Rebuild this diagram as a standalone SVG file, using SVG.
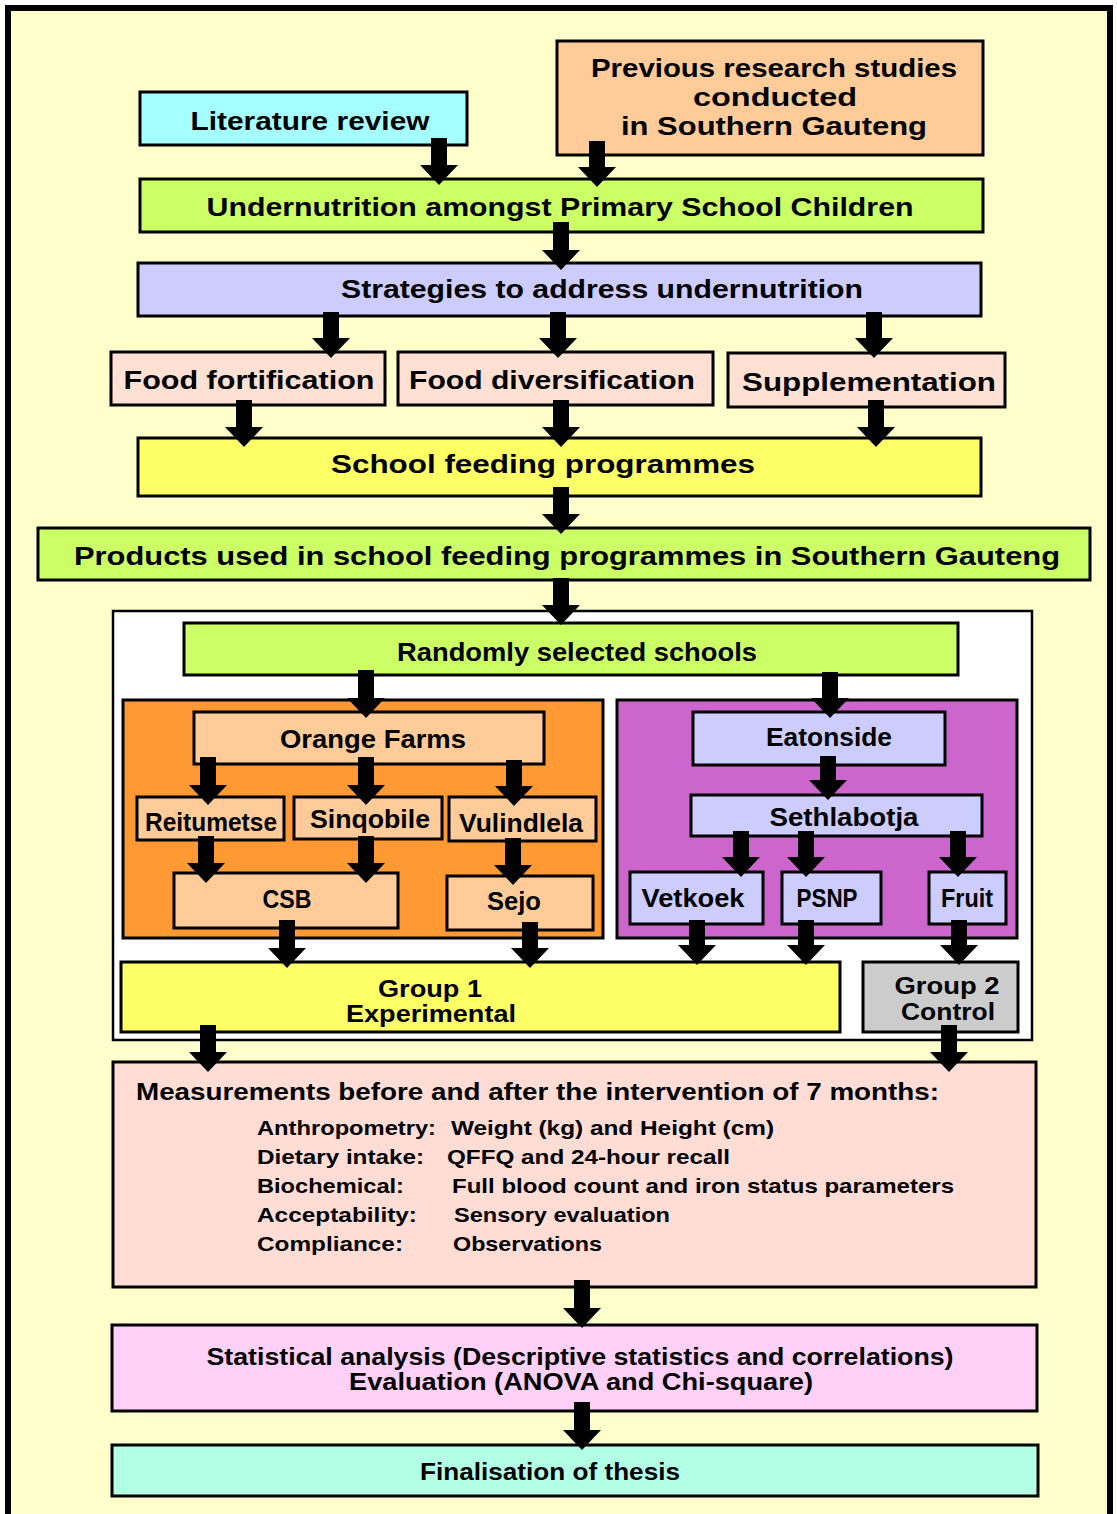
<svg xmlns="http://www.w3.org/2000/svg" width="1117" height="1514" viewBox="0 0 1117 1514">
<style>
.b{stroke:#000;stroke-width:3}
.t{font-family:"Liberation Sans",Arial,sans-serif;font-weight:bold;font-size:26px;fill:#000;text-anchor:middle}
.g{font-size:23px}
.s{font-family:"Liberation Sans",Arial,sans-serif;font-weight:bold;font-size:21px;fill:#000}
.m{font-family:"Liberation Sans",Arial,sans-serif;font-weight:bold;font-size:23px;fill:#000}
.a{fill:#000}
</style>
<rect x="0" y="0" width="1117" height="1514" fill="#fff"/>
<rect x="8" y="8" width="1102" height="1520" fill="#FFFFCC" stroke="#000" stroke-width="6"/>
<g id="literature"><rect class="b" x="140" y="92" width="327" height="53" fill="#A6FFFF"/><text class="t" x="310" y="130" textLength="239" lengthAdjust="spacingAndGlyphs">Literature review</text></g>
<g id="previous"><rect class="b" x="557" y="41" width="426" height="114" fill="#FFCC99"/><text class="t" x="774" y="77" textLength="366" lengthAdjust="spacingAndGlyphs">Previous research studies</text><text class="t" x="775" y="106" textLength="164" lengthAdjust="spacingAndGlyphs">conducted</text><text class="t" x="774" y="135" textLength="306" lengthAdjust="spacingAndGlyphs">in Southern Gauteng</text></g>
<g id="undernutrition"><rect class="b" x="140" y="179" width="843" height="53" fill="#CCFF66"/><text class="t" x="560" y="216" textLength="707" lengthAdjust="spacingAndGlyphs">Undernutrition amongst Primary School Children</text></g>
<g id="strategies"><rect class="b" x="138" y="263" width="843" height="53" fill="#CCCCFF"/><text class="t" x="602" y="298" textLength="522" lengthAdjust="spacingAndGlyphs">Strategies to address undernutrition</text></g>
<g id="fortification"><rect class="b" x="111" y="352" width="274" height="53" fill="#FFE0D2"/><text class="t" x="249" y="389" textLength="251" lengthAdjust="spacingAndGlyphs">Food fortification</text></g>
<g id="diversification"><rect class="b" x="398" y="352" width="315" height="53" fill="#FFE0D2"/><text class="t" x="552" y="389" textLength="286" lengthAdjust="spacingAndGlyphs">Food diversification</text></g>
<g id="supplementation"><rect class="b" x="728" y="353" width="277" height="54" fill="#FFE0D2"/><text class="t" x="869" y="391" textLength="254" lengthAdjust="spacingAndGlyphs">Supplementation</text></g>
<g id="school-feeding"><rect class="b" x="138" y="438" width="843" height="58" fill="#FFFF66"/><text class="t" x="543" y="473" textLength="424" lengthAdjust="spacingAndGlyphs">School feeding programmes</text></g>
<g id="products"><rect class="b" x="38" y="528" width="1052" height="52" fill="#CCFF66"/><text class="t" x="567" y="565" textLength="986" lengthAdjust="spacingAndGlyphs">Products used in school feeding programmes in Southern Gauteng</text></g>
<g id="schools-frame"><rect x="113" y="611" width="919" height="429" fill="#fff" stroke="#000" stroke-width="2.5"/></g>
<g id="randomly"><rect class="b" x="184" y="623" width="774" height="52" fill="#CCFF66"/><text class="t" x="577" y="661" textLength="360" lengthAdjust="spacingAndGlyphs">Randomly selected schools</text></g>
<g id="orange-area"><rect class="b" x="123" y="700" width="480" height="238" fill="#FF9933"/></g>
<g id="purple-area"><rect class="b" x="617" y="700" width="400" height="238" fill="#CC66CC"/></g>
<g id="orange-farms"><rect class="b" x="194" y="712" width="350" height="52" fill="#FFCC99"/><text class="t" x="373" y="748" textLength="186" lengthAdjust="spacingAndGlyphs">Orange Farms</text></g>
<g id="reitumetse"><rect class="b" x="137" y="797" width="147" height="43" fill="#FFCC99"/><text class="t" x="211" y="831" textLength="132" lengthAdjust="spacingAndGlyphs">Reitumetse</text></g>
<g id="sinqobile"><rect class="b" x="294" y="797" width="148" height="42" fill="#FFCC99"/><text class="t" x="370" y="828" textLength="120" lengthAdjust="spacingAndGlyphs">Sinqobile</text></g>
<g id="vulindlela"><rect class="b" x="449" y="797" width="147" height="44" fill="#FFCC99"/><text class="t" x="521" y="832" textLength="124" lengthAdjust="spacingAndGlyphs">Vulindlela</text></g>
<g id="csb"><rect class="b" x="174" y="873" width="224" height="55" fill="#FFCC99"/><text class="t" x="287" y="908" textLength="49" lengthAdjust="spacingAndGlyphs">CSB</text></g>
<g id="sejo"><rect class="b" x="447" y="876" width="146" height="54" fill="#FFCC99"/><text class="t" x="514" y="910" textLength="54" lengthAdjust="spacingAndGlyphs">Sejo</text></g>
<g id="eatonside"><rect class="b" x="693" y="712" width="252" height="53" fill="#CCCCFF"/><text class="t" x="829" y="746" textLength="126" lengthAdjust="spacingAndGlyphs">Eatonside</text></g>
<g id="sethlabotja"><rect class="b" x="691" y="795" width="291" height="41" fill="#CCCCFF"/><text class="t" x="844" y="826" textLength="149" lengthAdjust="spacingAndGlyphs">Sethlabotja</text></g>
<g id="vetkoek"><rect class="b" x="630" y="872" width="133" height="52" fill="#CCCCFF"/><text class="t" x="693" y="907" textLength="103" lengthAdjust="spacingAndGlyphs">Vetkoek</text></g>
<g id="psnp"><rect class="b" x="782" y="872" width="99" height="52" fill="#CCCCFF"/><text class="t" x="827" y="907" textLength="61" lengthAdjust="spacingAndGlyphs">PSNP</text></g>
<g id="fruit"><rect class="b" x="929" y="872" width="77" height="52" fill="#CCCCFF"/><text class="t" x="967" y="907" textLength="52" lengthAdjust="spacingAndGlyphs">Fruit</text></g>
<g id="group1"><rect class="b" x="121" y="962" width="719" height="70" fill="#FFFF66"/><text class="t g" x="430" y="997" textLength="104" lengthAdjust="spacingAndGlyphs">Group 1</text><text class="t g" x="431" y="1022" textLength="170" lengthAdjust="spacingAndGlyphs">Experimental</text></g>
<g id="group2"><rect class="b" x="863" y="962" width="155" height="70" fill="#CCCCCC"/><text class="t g" x="947" y="994" textLength="105" lengthAdjust="spacingAndGlyphs">Group 2</text><text class="t g" x="948" y="1020" textLength="94" lengthAdjust="spacingAndGlyphs">Control</text></g>
<g id="measurements"><rect class="b" x="113" y="1062" width="923" height="225" fill="#FFDDD5"/>
<text class="m" x="136" y="1100" textLength="803" lengthAdjust="spacingAndGlyphs">Measurements before and after the intervention of 7 months:</text>
<text class="s" x="257" y="1135" textLength="179" lengthAdjust="spacingAndGlyphs">Anthropometry:</text><text class="s" x="451" y="1135" textLength="323" lengthAdjust="spacingAndGlyphs">Weight (kg) and Height (cm)</text>
<text class="s" x="257" y="1164" textLength="167" lengthAdjust="spacingAndGlyphs">Dietary intake:</text><text class="s" x="447" y="1164" textLength="283" lengthAdjust="spacingAndGlyphs">QFFQ and 24-hour recall</text>
<text class="s" x="257" y="1193" textLength="147" lengthAdjust="spacingAndGlyphs">Biochemical:</text><text class="s" x="452" y="1193" textLength="502" lengthAdjust="spacingAndGlyphs">Full blood count and iron status parameters</text>
<text class="s" x="257" y="1222" textLength="160" lengthAdjust="spacingAndGlyphs">Acceptability:</text><text class="s" x="454" y="1222" textLength="216" lengthAdjust="spacingAndGlyphs">Sensory evaluation</text>
<text class="s" x="257" y="1251" textLength="146" lengthAdjust="spacingAndGlyphs">Compliance:</text><text class="s" x="453" y="1251" textLength="149" lengthAdjust="spacingAndGlyphs">Observations</text>
</g>
<g id="statistical"><rect class="b" x="112" y="1325" width="925" height="86" fill="#FFD0F8"/><text class="m" x="580" y="1365" text-anchor="middle" textLength="747" lengthAdjust="spacingAndGlyphs">Statistical analysis (Descriptive statistics and correlations)</text><text class="m" x="581" y="1390" text-anchor="middle" textLength="464" lengthAdjust="spacingAndGlyphs">Evaluation (ANOVA and Chi-square)</text></g>
<g id="finalisation"><rect class="b" x="112" y="1445" width="926" height="51" fill="#B3FFE6"/><text class="m" x="550" y="1480" text-anchor="middle" textLength="260" lengthAdjust="spacingAndGlyphs">Finalisation of thesis</text></g>
<g id="connectors" class="a">
<path d="M431,138H447V165H458L439,185L420,165H431Z"/>
<path d="M589,141H605V167H616L597,187L578,167H589Z"/>
<path d="M553,222H569V250H580L561,270L542,250H553Z"/>
<path d="M323,312H339V338H350L331,358L312,338H323Z"/>
<path d="M550,312H566V338H577L558,358L539,338H550Z"/>
<path d="M866,312H882V338H893L874,358L855,338H866Z"/>
<path d="M236,400H252V427H263L244,447L225,427H236Z"/>
<path d="M553,400H569V427H580L561,447L542,427H553Z"/>
<path d="M868,400H884V427H895L876,447L857,427H868Z"/>
<path d="M553,487H569V514H580L561,534L542,514H553Z"/>
<path d="M553,578H569V605H580L561,625L542,605H553Z"/>
<path d="M358,670H374V698H385L366,718L347,698H358Z"/>
<path d="M822,672H838V698H849L830,718L811,698H822Z"/>
<path d="M200,757H216V785H227L208,805L189,785H200Z"/>
<path d="M358,757H374V785H385L366,805L347,785H358Z"/>
<path d="M506,760H522V786H533L514,806L495,786H506Z"/>
<path d="M198,836H214V863H225L206,883L187,863H198Z"/>
<path d="M358,836H374V863H385L366,883L347,863H358Z"/>
<path d="M505,838H521V865H532L513,885L494,865H505Z"/>
<path d="M279,920H295V948H306L287,968L268,948H279Z"/>
<path d="M522,922H538V948H549L530,968L511,948H522Z"/>
<path d="M820,756H836V780H847L828,800L809,780H820Z"/>
<path d="M733,831H749V857H760L741,877L722,857H733Z"/>
<path d="M798,831H814V857H825L806,877L787,857H798Z"/>
<path d="M950,831H966V857H977L958,877L939,857H950Z"/>
<path d="M689,920H705V945H716L697,965L678,945H689Z"/>
<path d="M798,920H814V945H825L806,965L787,945H798Z"/>
<path d="M951,920H967V945H978L959,965L940,945H951Z"/>
<path d="M200,1025H216V1052H227L208,1072L189,1052H200Z"/>
<path d="M941,1025H957V1052H968L949,1072L930,1052H941Z"/>
<path d="M574,1280H590V1308H601L582,1328L563,1308H574Z"/>
<path d="M574,1402H590V1430H601L582,1450L563,1430H574Z"/>
</g>
</svg>
